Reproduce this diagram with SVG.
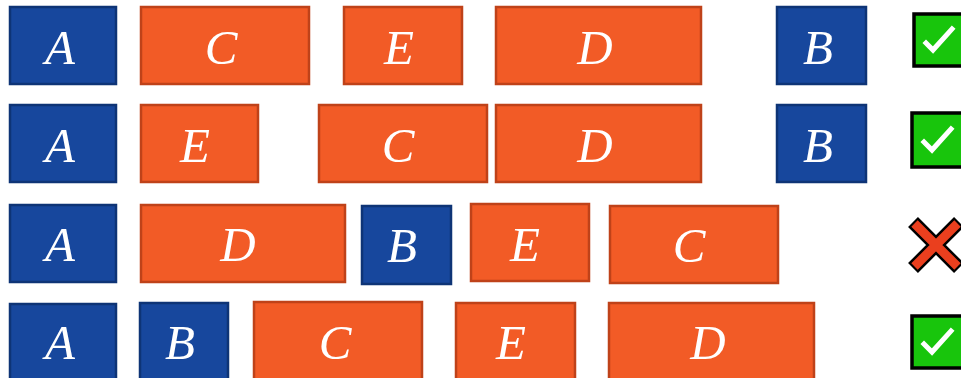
<svg xmlns="http://www.w3.org/2000/svg" width="961" height="378" viewBox="0 0 961 378">
<style>
.b{fill:#17479D;stroke:#0E3476;stroke-width:2.5}
.o{fill:#F25B26;stroke:#BF4219;stroke-width:2.5}
.t{font-family:"Liberation Serif","Times New Roman",serif;font-style:italic;font-size:49px;fill:#FFFFFF;text-anchor:middle}
.ck{fill:#18C50C;stroke:#000000;stroke-width:3.5}
.cm{fill:none;stroke:#FFFFFF;stroke-width:5;stroke-linecap:square;stroke-linejoin:miter}
</style>
<rect width="961" height="378" fill="#FFFFFF"/>
<!-- Row 1 -->
<g id="r1-A"><rect class="b" x="10" y="7" width="106" height="77"/><text class="t" x="60" y="64">A</text></g>
<g id="r1-C"><rect class="o" x="141" y="7" width="168" height="77"/><text class="t" x="221" y="64">C</text></g>
<g id="r1-E"><rect class="o" x="344" y="7" width="118" height="77"/><text class="t" x="399" y="64">E</text></g>
<g id="r1-D"><rect class="o" x="496" y="7" width="205" height="77"/><text class="t" x="595" y="64">D</text></g>
<g id="r1-B"><rect class="b" x="777" y="7" width="89" height="77"/><text class="t" x="818" y="64">B</text></g>
<g id="r1-ok"><rect class="ck" x="914" y="14" width="54" height="52"/><path class="cm" d="M926,43 L933,50 L952,29"/></g>
<!-- Row 2 -->
<g id="r2-A"><rect class="b" x="10" y="105" width="106" height="77"/><text class="t" x="60" y="162">A</text></g>
<g id="r2-E"><rect class="o" x="141" y="105" width="117" height="77"/><text class="t" x="195" y="162">E</text></g>
<g id="r2-C"><rect class="o" x="319" y="105" width="168" height="77"/><text class="t" x="398" y="162">C</text></g>
<g id="r2-D"><rect class="o" x="496" y="105" width="205" height="77"/><text class="t" x="595" y="162">D</text></g>
<g id="r2-B"><rect class="b" x="777" y="105" width="89" height="77"/><text class="t" x="818" y="162">B</text></g>
<g id="r2-ok"><rect class="ck" x="912" y="113" width="54" height="54"/><path class="cm" d="M924,142 L932,150 L951,129"/></g>
<!-- Row 3 -->
<g id="r3-A"><rect class="b" x="10" y="205" width="106" height="77"/><text class="t" x="60" y="261">A</text></g>
<g id="r3-D"><rect class="o" x="141" y="205" width="204" height="77"/><text class="t" x="238" y="261">D</text></g>
<g id="r3-B"><rect class="b" x="362" y="206" width="89" height="78"/><text class="t" x="402" y="262">B</text></g>
<g id="r3-E"><rect class="o" x="471" y="204" width="118" height="77"/><text class="t" x="525" y="261">E</text></g>
<g id="r3-C"><rect class="o" x="610" y="206" width="168" height="77"/><text class="t" x="689" y="262">C</text></g>
<g id="r3-no">
<path d="M913,222 L959,268 M959,222 L913,268" fill="none" stroke="#000000" stroke-width="14"/>
<path d="M914.5,223.5 L957.5,266.5 M957.5,223.5 L914.5,266.5" fill="none" stroke="#EA3F1E" stroke-width="9"/>
</g>
<!-- Row 4 -->
<g id="r4-A"><rect class="b" x="10" y="304" width="106" height="80"/><text class="t" x="60" y="359">A</text></g>
<g id="r4-B"><rect class="b" x="140" y="303" width="88" height="80"/><text class="t" x="180" y="359">B</text></g>
<g id="r4-C"><rect class="o" x="254" y="302" width="168" height="80"/><text class="t" x="335" y="359">C</text></g>
<g id="r4-E"><rect class="o" x="456" y="303" width="119" height="80"/><text class="t" x="511" y="359">E</text></g>
<g id="r4-D"><rect class="o" x="609" y="303" width="205" height="80"/><text class="t" x="708" y="359">D</text></g>
<g id="r4-ok"><rect class="ck" x="912" y="316" width="54" height="52"/><path class="cm" d="M924,344 L932,352 L951,331"/></g>
<g id="connectors"/>
</svg>
